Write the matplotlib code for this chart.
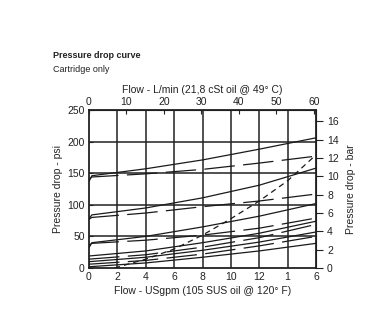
import matplotlib
matplotlib.use("Agg")
import matplotlib.pyplot as plt
import numpy as np

plt.rcParams['font.family'] = ['Liberation Sans', 'DejaVu Sans']
plt.rcParams['lines.scale_dashes'] = False

# ---- data (flow in USgpm, pressure drop in psi) ----
solid_a_x = [0, 0.2, 4, 8, 12, 16]
solid_a_y = [137, 146, 157, 171, 188, 206]
dash_a_x = [0, 0.2, 4, 8, 12, 16]
dash_a_y = [140, 144, 149, 156, 166, 177]

solid_b_x = [0, 0.2, 4, 8, 12, 16]
solid_b_y = [78, 84, 95, 111, 131, 158]
dash_b_x = [0, 0.2, 4, 8, 12, 16]
dash_b_y = [77, 80, 87, 97, 106, 117]

solid_c_x = [0, 0.2, 4, 8, 12, 16]
solid_c_y = [32, 40, 50, 65, 82, 102]
dash_c_x = [0, 0.2, 4, 8, 12, 16]
dash_c_y = [36, 39, 44, 52, 63, 79]

solid_d_x = [0, 4, 8, 12, 16]
solid_d_y = [19, 27, 40, 55, 74]
dash_d_x = [0, 4, 8, 12, 16]
dash_d_y = [14, 21, 33, 48, 69]

solid_e_x = [0, 4, 8, 12, 16]
solid_e_y = [10, 17, 28, 41, 57]
dash_e_x = [0, 4, 8, 12, 16]
dash_e_y = [6, 12, 22, 35, 50]

solid_f_x = [0, 4, 8, 12, 16]
solid_f_y = [2, 8, 17, 27, 39]

steep_x = [1.8, 4, 6, 8, 10, 12, 14, 16]
steep_y = [0, 14, 30, 52, 78, 106, 138, 179]

bottom_ticks = [0, 2, 4, 6, 8, 10, 12, 14, 16]
bottom_labels = ['0', '2', '4', '6', '8', '10', '12', '1', '6']
top_ticks = [0, 10, 20, 30, 40, 50, 60]
left_ticks = [0, 50, 100, 150, 200, 250]
right_ticks = [0, 2, 4, 6, 8, 10, 12, 14, 16]

LPM_PER_GPM = 3.78541
PSI_PER_BAR = 14.5038

W, H = 372, 325
fig = plt.figure(figsize=(W / 100, H / 100), dpi=100)
ax = fig.add_axes([89 / W, 1 - 268 / H, (316 - 89) / W, (268 - 110) / H])

ax.set_xlim(0, 16)
ax.set_ylim(0, 250)

# grid
for gx in [2, 4, 6, 8, 10, 12, 14]:
    ax.axvline(gx, color='#222222', lw=1.1, zorder=1)
for gy in [50, 100, 150, 200]:
    ax.axhline(gy, color='#222222', lw=1.1, zorder=1)

lw = 0.9
col = '#1a1a1a'
longdash = (0, (22, 6))
for xs, ys in [(solid_a_x, solid_a_y), (solid_b_x, solid_b_y), (solid_c_x, solid_c_y),
               (solid_d_x, solid_d_y), (solid_e_x, solid_e_y), (solid_f_x, solid_f_y)]:
    ax.plot(xs, ys, color=col, lw=lw, zorder=3)
for xs, ys in [(dash_a_x, dash_a_y), (dash_b_x, dash_b_y), (dash_c_x, dash_c_y),
               (dash_d_x, dash_d_y), (dash_e_x, dash_e_y)]:
    ax.plot(xs, ys, color=col, lw=lw, linestyle=longdash, zorder=3)
ax.plot(steep_x, steep_y, color=col, lw=lw, linestyle=(0, (4, 3)), zorder=3)

for s in ax.spines.values():
    s.set_linewidth(1.3)
    s.set_color('#222222')

ax.set_xticks(bottom_ticks)
ax.set_xticklabels(bottom_labels)
ax.set_yticks(left_ticks)
ax.tick_params(axis='x', length=0, pad=3, labelsize=7.5, colors='#222222')
ax.tick_params(axis='y', length=3, direction='in', pad=3, labelsize=7.5, colors='#222222')
ax.set_xlabel('Flow - USgpm (105 SUS oil @ 120° F)', fontsize=7.5, labelpad=3, color='#222222')
ax.set_ylabel('Pressure drop - psi', fontsize=7.5, labelpad=3, color='#222222')

top = ax.secondary_xaxis('top', functions=(lambda g: g * LPM_PER_GPM, lambda l: l / LPM_PER_GPM))
top.set_xticks(top_ticks)
top.tick_params(axis='x', length=3, direction='in', pad=2, labelsize=7.5, colors='#222222')
top.set_xlabel('Flow - L/min (21,8 cSt oil @ 49° C)', fontsize=7.5, labelpad=3, color='#222222')

right = ax.secondary_yaxis('right', functions=(lambda p: p / PSI_PER_BAR, lambda b: b * PSI_PER_BAR))
right.set_yticks(right_ticks)
right.tick_params(axis='y', length=5, direction='out', pad=3, labelsize=7.5, colors='#222222')
right.set_ylabel('Pressure drop - bar', fontsize=7.5, labelpad=5, color='#222222')

fig.text(53 / W, 1 - 56 / H, 'Pressure drop curve', fontsize=6.5, fontweight='bold',
         va='center', ha='left', color='#222222')
fig.text(53 / W, 1 - 70 / H, 'Cartridge only', fontsize=6.5, va='center', ha='left', color='#222222')

fig.savefig('out.png', dpi=100)
